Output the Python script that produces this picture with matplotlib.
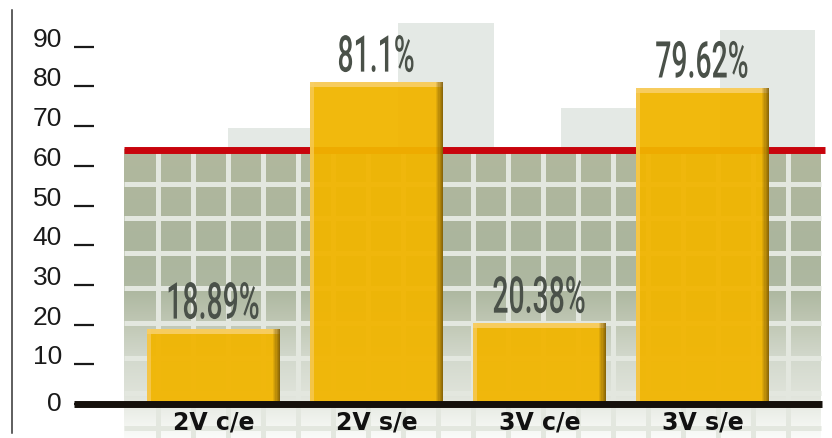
import numpy as np
import matplotlib
matplotlib.use("Agg")
import matplotlib.pyplot as plt
from matplotlib.patheffects import AbstractPathEffect
from matplotlib.transforms import Affine2D
from matplotlib.colors import LinearSegmentedColormap
from matplotlib.patches import Rectangle

# ---------------- data ----------------
categories = ["2V c/e", "2V s/e", "3V c/e", "3V s/e"]
values = [18.89, 81.1, 20.38, 79.62]
value_labels = ["18.89%", "81.1%", "20.38%", "79.62%"]
y_ticks = [0, 10, 20, 30, 40, 50, 60, 70, 80, 90]
y_tick_labels = ["0", "10", "20", "30", "40", "50", "60", "70", "80", "90"]
threshold = 64

# ---------------- layout helpers (pixel -> data) ----------------
W, H = 832, 438
X0, DX = 213.5, 163.0      # pixel centre of first category, spacing
Y0, DY = 404.0, 3.97       # pixel of value 0, pixels per unit


def px_x(p):
    return (p - X0) / DX


def px_y(p):
    return (Y0 - p) / DY


class HCompress(AbstractPathEffect):
    """Draw text horizontally condensed around its own centre."""

    def __init__(self, sx):
        super().__init__()
        self.sx = sx

    def draw_path(self, renderer, gc, tpath, affine, rgbFace=None):
        v = tpath.vertices
        cx = (v[:, 0].min() + v[:, 0].max()) / 2 if len(v) else 0
        t = Affine2D().translate(-cx, 0).scale(self.sx, 1).translate(cx, 0) + affine
        renderer.draw_path(gc, tpath, t, rgbFace)


fig = plt.figure(figsize=(W / 100, H / 100), dpi=100)
fig.patch.set_facecolor("white")
ax = fig.add_axes([0, 0, 1, 1])
ax.set_facecolor("white")
ax.set_xlim(px_x(0), px_x(W))
ax.set_ylim(px_y(H), px_y(0))

x = np.arange(len(categories))
bar_w = 0.82

# ---------------- decorative background ----------------
g_left, g_right = px_x(124), px_x(821)
ghost_color = "#e4e9e5"
ghost_tops = [69.5, 96, 74.5, 94.2]
ghost_spans = [(0.09, 1 - bar_w / 2), (0.13, bar_w / 2 + 0.31),
               (0.13, 1 - bar_w / 2), (0.11, bar_w / 2 + 0.28)]
for i, (top, (a, b)) in enumerate(zip(ghost_tops, ghost_spans)):
    ax.add_patch(Rectangle((x[i] + a, threshold), b - a, top - threshold,
                           facecolor=ghost_color, edgecolor="none", zorder=0.5))

stops = [(438, "#fafbf9"), (412, "#ebeee8"), (395, "#dfe3da"), (360, "#d3d9cd"),
         (330, "#c3cab8"), (295, "#afb9a2"), (250, "#abb59d"), (153, "#b1b89e")]
lo, hi = 438, 153
cmap = LinearSegmentedColormap.from_list(
    "bg", [((lo - p) / (lo - hi), c) for p, c in stops])
grad = np.linspace(1, 0, 256).reshape(-1, 1)
ax.imshow(grad, cmap=cmap, vmin=0, vmax=1, aspect="auto",
          extent=[g_left, g_right, px_y(438), threshold], zorder=1,
          interpolation="bilinear")

grid_c = "#e3e7df"
for gx in np.arange(px_x(157.5), g_right, 35 / DX):
    ax.plot([gx, gx], [px_y(438), threshold], color=grid_c, lw=3.6,
            zorder=1.5, solid_capstyle="butt")
for gy in np.arange(px_y(183.5), px_y(440), -35 / DY):
    ax.plot([g_left, g_right], [gy, gy], color=grid_c, lw=3.6,
            zorder=1.5, solid_capstyle="butt")

ax.hlines(threshold, px_x(124), px_x(825), color="#c8040c", lw=5.0, zorder=2)

# ---------------- bars ----------------
bar_c = "#f1b500"
ax.bar(x, values, width=bar_w, color=bar_c, alpha=0.95, zorder=3)
# left highlight
ax.bar(x - bar_w / 2 + 0.012, values, width=0.024, color="#f7cb5c",
       alpha=0.75, zorder=3.1)
# top highlight
ax.bar(x, [1.3] * len(x), bottom=np.array(values) - 1.3, width=bar_w,
       color="#f8cf68", alpha=0.9, zorder=3.2)
# right shadow (gradient)
nstrip, dw = 6, 0.0075
for k in range(nstrip):
    ax.bar(x + bar_w / 2 - (k + 0.5) * dw, values, width=dw,
           color="#6a4c06", alpha=0.75 * (1 - k / nstrip), zorder=3.3,
           linewidth=0)

# baseline
ax.hlines(0, px_x(74), px_x(822), color="#15100b", lw=5.0, zorder=5)

# left vertical rule
ax.axvline(px_x(12), ymin=(H - 433) / H, ymax=(H - 10) / H,
           color="#333333", lw=1.1, zorder=5)

# ---------------- value labels ----------------
for xi, v, lbl in zip(x, values, value_labels):
    ax.annotate(lbl, (xi, v), xytext=(0, 7.5), textcoords="offset points",
                ha="center", va="baseline", fontsize=36.5,
                family="Roboto", fontweight="medium",
                color="#4a5149", zorder=6,
                path_effects=[HCompress(0.56)])

# ---------------- category labels ----------------
for xi, cat in zip(x, categories):
    ax.text(xi, px_y(430), cat, ha="center", va="baseline", fontsize=17,
            fontweight="bold", family="DejaVu Sans", color="#111111",
            zorder=6)

# ---------------- axis ----------------
for s in ["top", "right", "bottom"]:
    ax.spines[s].set_visible(False)
ax.spines["left"].set_position(("data", px_x(94)))
ax.spines["left"].set_visible(False)
ax.set_xticks([])
ax.set_yticks(y_ticks)
ax.set_yticklabels(y_tick_labels)
ax.tick_params(axis="y", direction="out", length=14.4, width=1.6, pad=8.6,
               labelsize=19, colors="#1a1a1a")
for t, lbl in zip(y_ticks, ax.get_yticklabels()):
    lbl.set_fontfamily("Liberation Sans")
    lbl.set_va("center" if t == 0 else "baseline")

fig.savefig("out.png", dpi=100, facecolor="white")
